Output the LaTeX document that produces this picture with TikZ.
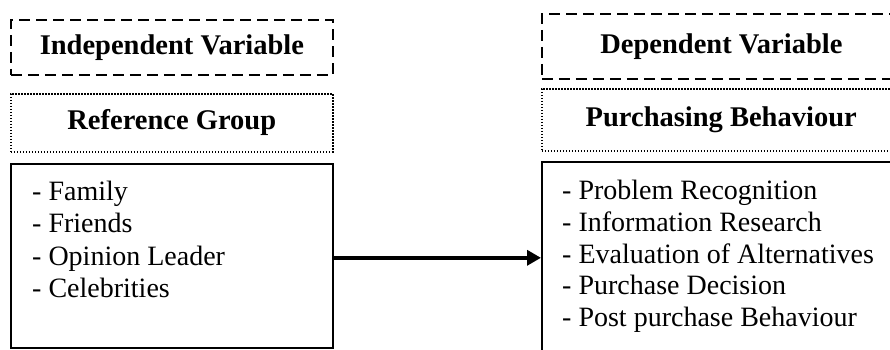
\documentclass[tikz,border=0pt]{standalone}
\usepackage{fontspec}
\setmainfont{Liberation Serif}
\usetikzlibrary{arrows.meta}
\tikzset{
  hdr/.style={font=\fontsize{28.5}{32}\selectfont\bfseries},
  lst/.style={font=\fontsize{28}{#1}\selectfont, align=left, inner sep=0pt, anchor=base west},
  dashbox/.style={draw, line width=1.8pt, dash pattern=on 11pt off 6pt, rectangle, inner sep=0pt},
  dotbox/.style={draw, line width=1.5pt, dash pattern=on 1.4pt off 1.6pt, rectangle, inner sep=0pt},
  solidbox/.style={draw, line width=1.6pt, rectangle, inner sep=0pt},
}
\begin{document}
\begin{tikzpicture}[x=1pt,y=-1pt]
\useasboundingbox (0,0) rectangle (890,349);
\clip (0,0) rectangle (890,349);
% left column
\node[dashbox, hdr, minimum width=322pt, minimum height=55pt, anchor=north west] (iv) at (10,19) {Independent Variable};
\node[dotbox, hdr, minimum width=322pt, minimum height=58pt, anchor=north west] (rg) at (10,93) {Reference Group};
\node[solidbox, minimum width=322pt, minimum height=184pt, anchor=north west] (lbox) at (10,163) {};
\node[lst=32.3] (ltxt) at (32,297.4) {- Family\\- Friends\\- Opinion Leader\\- Celebrities};
% right column
\node[dashbox, hdr, minimum width=359pt, minimum height=65pt, anchor=north west] (dv) at (541,13) {Dependent Variable};
\node[dotbox, hdr, minimum width=359pt, minimum height=62pt, anchor=north west] (pb) at (541,88) {Purchasing Behaviour};
\node[solidbox, minimum width=359pt, minimum height=200pt, anchor=north west] (rbox) at (541,161) {};
\node[lst=31.8] (rtxt) at (562,326.7) {- Problem Recognition\\- Information Research\\- Evaluation of Alternatives\\- Purchase Decision\\- Post purchase Behaviour};
% connector
\coordinate (astart) at ([yshift=-2pt]lbox.east);
\draw[line width=4.5pt, -{Triangle[length=14pt,width=15pt]}] (astart) -- (astart -| rbox.west);
\end{tikzpicture}
\end{document}
